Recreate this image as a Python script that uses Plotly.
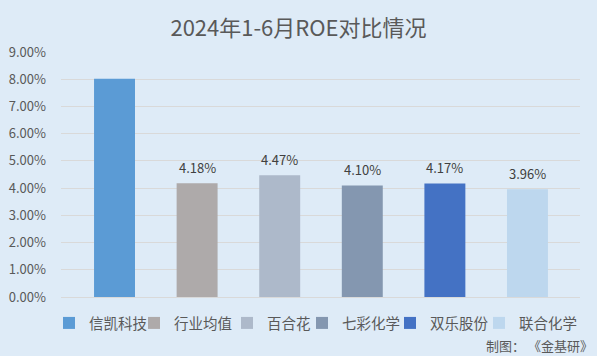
import plotly.graph_objects as go

categories = ["信凯科技", "行业均值", "百合花", "七彩化学", "双乐股份", "联合化学"]
roe_values = [8.02, 4.18, 4.47, 4.10, 4.17, 3.96]
value_labels = ["", "4.18%", "4.47%", "4.10%", "4.17%", "3.96%"]
colors = ["#5B9BD5", "#AEAAAA", "#ADB9CA", "#8497B0", "#4472C4", "#BDD7EE"]
y_ticks = [0, 1, 2, 3, 4, 5, 6, 7, 8, 9]

FONT = "Noto Sans CJK SC"
TEXT = "#595959"
BG = "#DEEBF7"

# left pixel where each legend entry's text begins (Excel-like legend layout)
legend_text_px = [90, 175, 268, 343, 431, 520]

fig = go.Figure()
annotations = []
legend_layouts = {}
for i, (cat, val, lab, col) in enumerate(zip(categories, roe_values, value_labels, colors)):
    lg = "legend" if i == 0 else f"legend{i + 1}"
    fig.add_trace(go.Bar(
        x=[i], y=[val], name=cat, marker=dict(color=col, line=dict(width=0)),
        width=0.496, legend=lg,
        hovertemplate=cat + ": %{y:.2f}%<extra></extra>",
    ))
    legend_layouts[lg] = dict(
        orientation="h", xref="container", yref="container",
        x=(legend_text_px[i] - 41) / 597, xanchor="left",
        y=1 - 323 / 356, yanchor="middle",
        font=dict(family=FONT, size=14.5, color=TEXT),
        bgcolor="rgba(0,0,0,0)", itemclick=False, itemdoubleclick=False,
    )
    if lab:
        annotations.append(dict(x=i, y=val, xref="x", yref="y", text=lab, showarrow=False,
                                yanchor="middle", yshift=16,
                                font=dict(family=FONT, size=13, color="#404040")))

annotations.append(dict(text="制图： 《金基研》", xref="paper", yref="paper", x=1.0295, y=-0.196,
                        xanchor="right", yanchor="middle", showarrow=False,
                        font=dict(family=FONT, size=13, color=TEXT)))

fig.update_layout(
    width=597, height=356,
    paper_bgcolor=BG, plot_bgcolor=BG,
    margin=dict(l=61, r=17, t=52, b=59, autoexpand=False),
    barmode="overlay",
    title=dict(text="2024年1-6月ROE对比情况", x=0.5, xanchor="center", y=0.92, yanchor="middle",
               font=dict(family=FONT, size=22, color=TEXT)),
    font=dict(family=FONT, color=TEXT),
    showlegend=True,
    xaxis=dict(range=[-0.648, 5.636], showticklabels=False, showgrid=False, zeroline=False,
               showline=False, ticks="", fixedrange=True),
    yaxis=dict(range=[0, 9], tickvals=y_ticks, ticktext=[f"{v:.2f}%" for v in y_ticks],
               showgrid=True, gridcolor="#D9D9D9", gridwidth=1, zeroline=True,
               zerolinecolor="#D9D9D9", zerolinewidth=1, showline=False, ticks="",
               ticklabelstandoff=14, tickfont=dict(family=FONT, size=13, color=TEXT),
               fixedrange=True),
    annotations=annotations,
    **legend_layouts,
)

fig.write_html(
    "out.html",
    config={"displayModeBar": False},
    post_script="document.body.style.margin='0';document.body.style.background='" + BG + "';",
)
